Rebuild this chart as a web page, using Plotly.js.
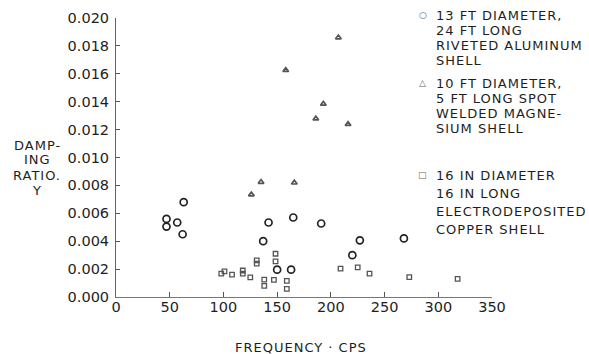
<!DOCTYPE html>
<html>
<head>
<meta charset="utf-8">
<script src="https://cdn.plot.ly/plotly-3.0.1.min.js"></script>
<style>
  html, body { margin: 0; padding: 0; background: #ffffff; }
  #chart { width: 589px; height: 354px; }
  .annotation-text { letter-spacing: 1px; }
</style>
</head>
<body>
<div id="chart"></div>
<script>
// Damping ratio against frequency for three cylindrical shells.

// 13 ft diameter, 24 ft long riveted aluminum shell
const aluminumFreq = [47, 47, 57, 63, 62, 137, 142, 150, 163, 165, 191, 220, 227, 268];
const aluminumDamping = [0.0056, 0.00505, 0.00534, 0.0068, 0.0045, 0.0040, 0.00534, 0.00196,
                         0.00196, 0.0057, 0.00527, 0.0030, 0.00406, 0.0042];

// 10 ft diameter, 5 ft long spot welded magnesium shell
const magnesiumFreq = [126, 135, 158, 166, 186, 193, 207, 216];
const magnesiumDamping = [0.00734, 0.00824, 0.01626, 0.00819, 0.01278, 0.01384, 0.0186, 0.01239];

// 16 in diameter, 16 in long electrodeposited copper shell
const copperFreq = [98, 101, 108, 118, 118, 125, 131, 131, 138, 138, 147, 148.5, 148.5,
                    159, 159, 209, 225, 236, 273, 318];
const copperDamping = [0.00167, 0.00183, 0.0016, 0.0019, 0.00167, 0.0014, 0.00263, 0.00239,
                       0.00125, 0.0008, 0.00123, 0.0031, 0.00256, 0.00116, 0.00058,
                       0.00203, 0.00213, 0.00167, 0.00143, 0.0013];

const xTicks = [0, 50, 100, 150, 200, 250, 300, 350];
const yTicks = [0, 0.002, 0.004, 0.006, 0.008, 0.010, 0.012, 0.014, 0.016, 0.018, 0.020];

const legendSymbols = ['\u25CB', '\u25B3', '\u25A1'];
const legendLines = [
  ['13 FT DIAMETER,', '24 FT LONG', 'RIVETED ALUMINUM', 'SHELL'],
  ['10 FT DIAMETER,', '5 FT LONG SPOT', 'WELDED MAGNE-', 'SIUM SHELL'],
  ['16 IN DIAMETER', '16 IN LONG', 'ELECTRODEPOSITED', 'COPPER SHELL']
];

// Plot frame in pixels
const W = 589, H = 354;
const M = { l: 116, r: 97, t: 18, b: 57 };
const plotW = W - M.l - M.r, plotH = H - M.t - M.b;
const px2x = px => (px - M.l) / plotW;
const px2y = py => (H - M.b - py) / plotH;

const FONT = 'DejaVu Sans, Verdana, sans-serif';
const TEXT = '#1e1e1e';

const traces = [
  {
    x: aluminumFreq, y: aluminumDamping, type: 'scatter', mode: 'markers',
    name: 'aluminum',
    marker: { symbol: 'circle-open', size: 7, color: '#222', line: { width: 1.7, color: '#222' } }
  },
  {
    x: magnesiumFreq, y: magnesiumDamping, type: 'scatter', mode: 'markers',
    name: 'magnesium',
    marker: { symbol: 'triangle-up-open', size: 5, color: '#555', line: { width: 1.7, color: '#555' } }
  },
  {
    x: copperFreq, y: copperDamping, type: 'scatter', mode: 'markers',
    name: 'copper',
    marker: { symbol: 'square-open', size: 4.5, color: '#555', line: { width: 1.3, color: '#555' } }
  }
];

const annotations = [];

// Legend block on the right
const groupTop = [15, 83, 175];
const groupStep = [15.2, 15.2, 18];
legendLines.forEach((lines, g) => {
  annotations.push({
    xref: 'paper', yref: 'paper', x: px2x(423), y: px2y(groupTop[g]),
    xanchor: 'center', yanchor: 'middle', showarrow: false,
    text: legendSymbols[g], font: { family: FONT, size: 9, color: '#666' }
  });
  lines.forEach((line, i) => {
    annotations.push({
      xref: 'paper', yref: 'paper', x: px2x(434), y: px2y(groupTop[g] + i * groupStep[g]),
      xanchor: 'left', yanchor: 'middle', showarrow: false,
      text: line, font: { family: FONT, size: 13, color: TEXT }
    });
  });
});

// Vertical axis caption, stacked to the left of the tick labels
['DAMP-', 'ING', 'RATIO.', 'Y'].forEach((line, i) => {
  annotations.push({
    xref: 'paper', yref: 'paper', x: px2x(37), y: px2y(145 + i * 15),
    xanchor: 'center', yanchor: 'middle', showarrow: false,
    text: line, font: { family: FONT, size: 13, color: TEXT }
  });
});

// Horizontal axis caption
annotations.push({
  xref: 'paper', yref: 'paper', x: px2x(301), y: px2y(347),
  xanchor: 'center', yanchor: 'middle', showarrow: false,
  text: 'FREQUENCY \u00B7 CPS', font: { family: FONT, size: 13, color: TEXT }
});

const layout = {
  width: W, height: H,
  margin: M,
  paper_bgcolor: '#ffffff', plot_bgcolor: '#ffffff',
  showlegend: false,
  font: { family: FONT, color: TEXT },
  xaxis: {
    range: [0, 350], tickvals: xTicks, ticktext: xTicks.map(String),
    showgrid: false, zeroline: false,
    showline: true, linecolor: '#777', linewidth: 1,
    ticks: 'inside', ticklen: 5, tickcolor: '#555', tickwidth: 1,
    tickfont: { family: FONT, size: 14.5, color: TEXT },
    ticklabelstandoff: -3,
    fixedrange: true
  },
  yaxis: {
    range: [0, 0.020], tickvals: yTicks, ticktext: yTicks.map(v => v.toFixed(3)),
    showgrid: false, zeroline: false,
    showline: true, linecolor: '#666', linewidth: 1,
    ticks: 'inside', ticklen: 4, tickcolor: '#555', tickwidth: 1,
    tickfont: { family: FONT, size: 14.5, color: TEXT },
    ticklabelstandoff: 3,
    fixedrange: true
  },
  annotations: annotations
};

Plotly.newPlot('chart', traces, layout, { displayModeBar: false, staticPlot: true });
</script>
</body>
</html>
